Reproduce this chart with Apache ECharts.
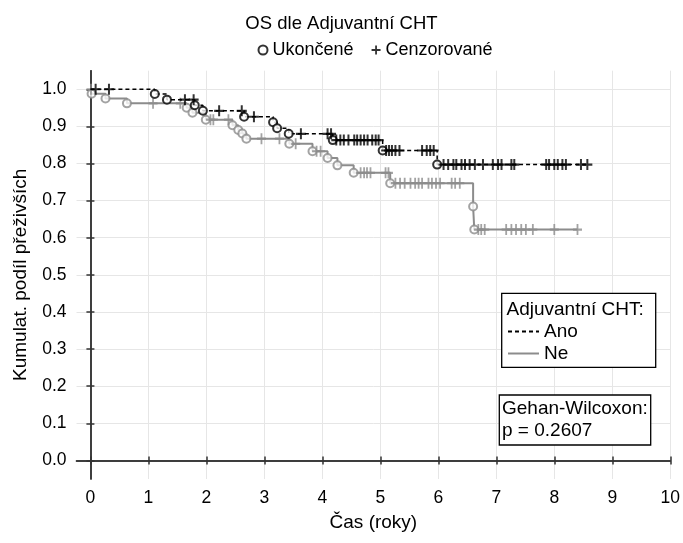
<!DOCTYPE html>
<html>
<head>
<meta charset="utf-8">
<script src="https://cdn.jsdelivr.net/npm/echarts@6/dist/echarts.min.js"></script>
<style>html,body{margin:0;padding:0;background:#fff}#c{width:683px;height:543px}</style>
</head>
<body>
<div id="c"></div>
<script>
const FONT = "'Liberation Sans', Arial, sans-serif";
const xTicks = [0,1,2,3,4,5,6,7,8,9,10];
const yTicks = [0,0.1,0.2,0.3,0.4,0.5,0.6,0.7,0.8,0.9,1.0];

// Adjuvantní CHT = Ano (dashed black)
const anoEventTimes = [1.11,1.32,1.80,1.94,2.65,3.15,3.22,3.42,4.18,5.04,5.98];
const anoEventSurv  = [0.987,0.972,0.957,0.942,0.926,0.911,0.895,0.880,0.863,0.835,0.797];
const anoCensorTimes = [0.09,0.32,1.63,1.78,2.22,2.61,2.82,3.63,4.09,4.15,4.24,4.31,4.37,4.45,4.55,4.60,4.66,4.72,4.78,4.86,4.92,4.97,5.10,5.15,5.20,5.26,5.33,5.72,5.80,5.86,5.92,6.09,6.17,6.26,6.31,6.40,6.46,6.54,6.63,6.77,6.94,7.03,7.09,7.26,7.31,7.86,7.91,8.00,8.06,8.14,8.20,8.46,8.57];

// Adjuvantní CHT = Ne (solid gray)
const neEventTimes = [0.02,0.26,0.63,1.66,1.76,1.99,2.45,2.55,2.62,2.69,3.43,3.83,4.09,4.26,4.54,5.17,6.60,6.62];
const neEventSurv  = [0.988,0.975,0.962,0.950,0.937,0.918,0.903,0.890,0.881,0.867,0.853,0.833,0.815,0.795,0.775,0.747,0.684,0.622];
const neCensorTimes = [0.01,1.08,1.55,2.07,2.12,2.38,2.95,3.26,3.54,3.90,3.97,4.66,4.72,4.77,4.83,5.09,5.14,5.26,5.34,5.42,5.52,5.60,5.66,5.72,5.83,5.89,5.96,6.03,6.23,6.29,6.37,6.69,6.74,6.80,7.17,7.26,7.34,7.43,7.51,7.63,8.00,8.40];

function survAt(times, surv, t){ let s=1; for(let i=0;i<times.length;i++){ if(times[i]<=t) s=surv[i]; } return s; }
function lineData(times, surv, cens){
  const d=[[0,1]];
  for(let i=0;i<times.length;i++) d.push([times[i],surv[i]]);
  const last=Math.max(cens[cens.length-1], times[times.length-1]);
  d.push([last, survAt(times,surv,last)]);
  return d;
}
function eventData(times,surv){ return times.map((t,i)=>[t,surv[i]]); }
function censorData(times,surv,cens){ return cens.map(t=>[t,survAt(times,surv,t)]); }

const PLUS = 'path://M4,0h2v4h4v2h-4v4h-2v-4h-4v-2h4z';
const BLACK = '#000000', GRAY = '#8c8c8c';
const TXT = 19;

const axisLineStyle = {color:'#333', width:1.5};
const chart = echarts.init(document.getElementById('c'));
chart.setOption({
  animation:false,
  textStyle:{fontFamily:FONT},
  title:{text:'OS dle Adjuvantní CHT', left:'center', top:9, textStyle:{fontFamily:FONT,fontSize:18.5,fontWeight:'normal',color:'#000'}},
  legend:[{
    left:252.5, top:36, itemWidth:9, itemHeight:9, itemGap:18,
    textStyle:{fontFamily:FONT,fontSize:18,color:'#000'},
    selectedMode:false, z:20,
    data:[{name:'Ukončené', icon:'emptyCircle'},{name:'Cenzorované', icon:PLUS}]
  },{
    orient:'vertical', left:502, top:317, itemWidth:31, itemHeight:14, itemGap:3,
    textStyle:{fontFamily:FONT,fontSize:TXT,color:'#000',lineHeight:18},
    itemStyle:{color:'rgba(0,0,0,0)', borderWidth:0, opacity:0},
    selectedMode:false, z:20,
    data:['Ano','Ne']
  }],
  grid:{left:76.5, right:10.3, top:70.7, bottom:64},
  xAxis:[{
    type:'value', min:-0.24, max:10, position:'bottom',
    name:'Čas (roky)', nameLocation:'middle', nameGap:34,
    nameTextStyle:{fontFamily:FONT,fontSize:TXT,color:'#000'},
    axisLine:{show:true,lineStyle:axisLineStyle},
    axisTick:{show:true,inside:true,length:4,customValues:xTicks,lineStyle:axisLineStyle},
    axisLabel:{customValues:xTicks,fontFamily:FONT,fontSize:17.5,color:'#000',margin:10},
    splitLine:{show:true,lineStyle:{color:'#e6e6e6',width:1}}
  },{
    type:'value', min:-0.24, max:10, position:'top',
    axisLine:{show:true,lineStyle:axisLineStyle},
    axisTick:{show:true,inside:true,length:4,customValues:xTicks,lineStyle:axisLineStyle},
    axisLabel:{show:false}, splitLine:{show:false}
  }],
  yAxis:[{
    type:'value', min:-0.05, max:1.05, position:'left',
    name:'Kumulat. podíl přeživších', nameLocation:'middle', nameGap:46, nameRotate:90,
    nameTextStyle:{fontFamily:FONT,fontSize:TXT,color:'#000'},
    axisLine:{show:true,lineStyle:axisLineStyle},
    axisTick:{show:true,inside:true,length:4,customValues:yTicks,lineStyle:axisLineStyle},
    axisLabel:{customValues:yTicks,fontFamily:FONT,fontSize:17.5,color:'#000',margin:10,formatter:v=>v.toFixed(1)},
    splitLine:{show:true,lineStyle:{color:'#e6e6e6',width:1}}
  },{
    type:'value', min:-0.05, max:1.05, position:'right',
    axisLine:{show:true,lineStyle:axisLineStyle},
    axisTick:{show:true,inside:true,length:4,customValues:yTicks,lineStyle:axisLineStyle},
    axisLabel:{show:false}, splitLine:{show:false}
  }],
  series:[
    {name:'Ne', type:'line', step:'end', showSymbol:false, symbol:'none', data:lineData(neEventTimes,neEventSurv,neCensorTimes),
     lineStyle:{color:GRAY,width:2}, itemStyle:{color:GRAY}, z:2},
    {name:'Ukončené_ne', type:'scatter', symbol:'emptyCircle', symbolSize:8, data:eventData(neEventTimes,neEventSurv),
     itemStyle:{color:GRAY,borderColor:GRAY,borderWidth:1.5}, z:3},
    {name:'Cenzorované_ne', type:'scatter', symbol:PLUS, symbolSize:[9,11], data:censorData(neEventTimes,neEventSurv,neCensorTimes),
     itemStyle:{color:GRAY}, z:3},
    {name:'Ano', type:'line', step:'end', showSymbol:false, symbol:'none', data:lineData(anoEventTimes,anoEventSurv,anoCensorTimes),
     lineStyle:{color:BLACK,width:1.5,type:[4,3]}, itemStyle:{color:BLACK}, z:4},
    {name:'Ukončené', type:'scatter', symbol:'emptyCircle', symbolSize:8, data:eventData(anoEventTimes,anoEventSurv),
     itemStyle:{color:BLACK,borderColor:BLACK,borderWidth:1.5}, z:5},
    {name:'Cenzorované', type:'scatter', symbol:PLUS, symbolSize:[10,11], data:censorData(anoEventTimes,anoEventSurv,anoCensorTimes),
     itemStyle:{color:BLACK}, z:5}
  ],
  graphic:[
    {type:'rect', shape:{x:501.7,y:293.3,width:154,height:74}, style:{fill:'#fff',stroke:'#000',lineWidth:1.3}, z:10},
    {type:'text', x:506.5, y:310, style:{text:'Adjuvantní CHT:', font:TXT+"px 'Liberation Sans', Arial, sans-serif", fill:'#000', verticalAlign:'middle'}, z:11},
    {type:'rect', shape:{x:499.3,y:395,width:151.4,height:50}, style:{fill:'#fff',stroke:'#000',lineWidth:1.3}, z:10},
    {type:'text', x:502, y:408.5, style:{text:'Gehan-Wilcoxon:', font:TXT+"px 'Liberation Sans', Arial, sans-serif", fill:'#000', verticalAlign:'middle'}, z:11},
    {type:'text', x:502, y:430.5, style:{text:'p = 0.2607', font:TXT+"px 'Liberation Sans', Arial, sans-serif", fill:'#000', verticalAlign:'middle'}, z:11}
  ]
});
</script>
</body>
</html>
